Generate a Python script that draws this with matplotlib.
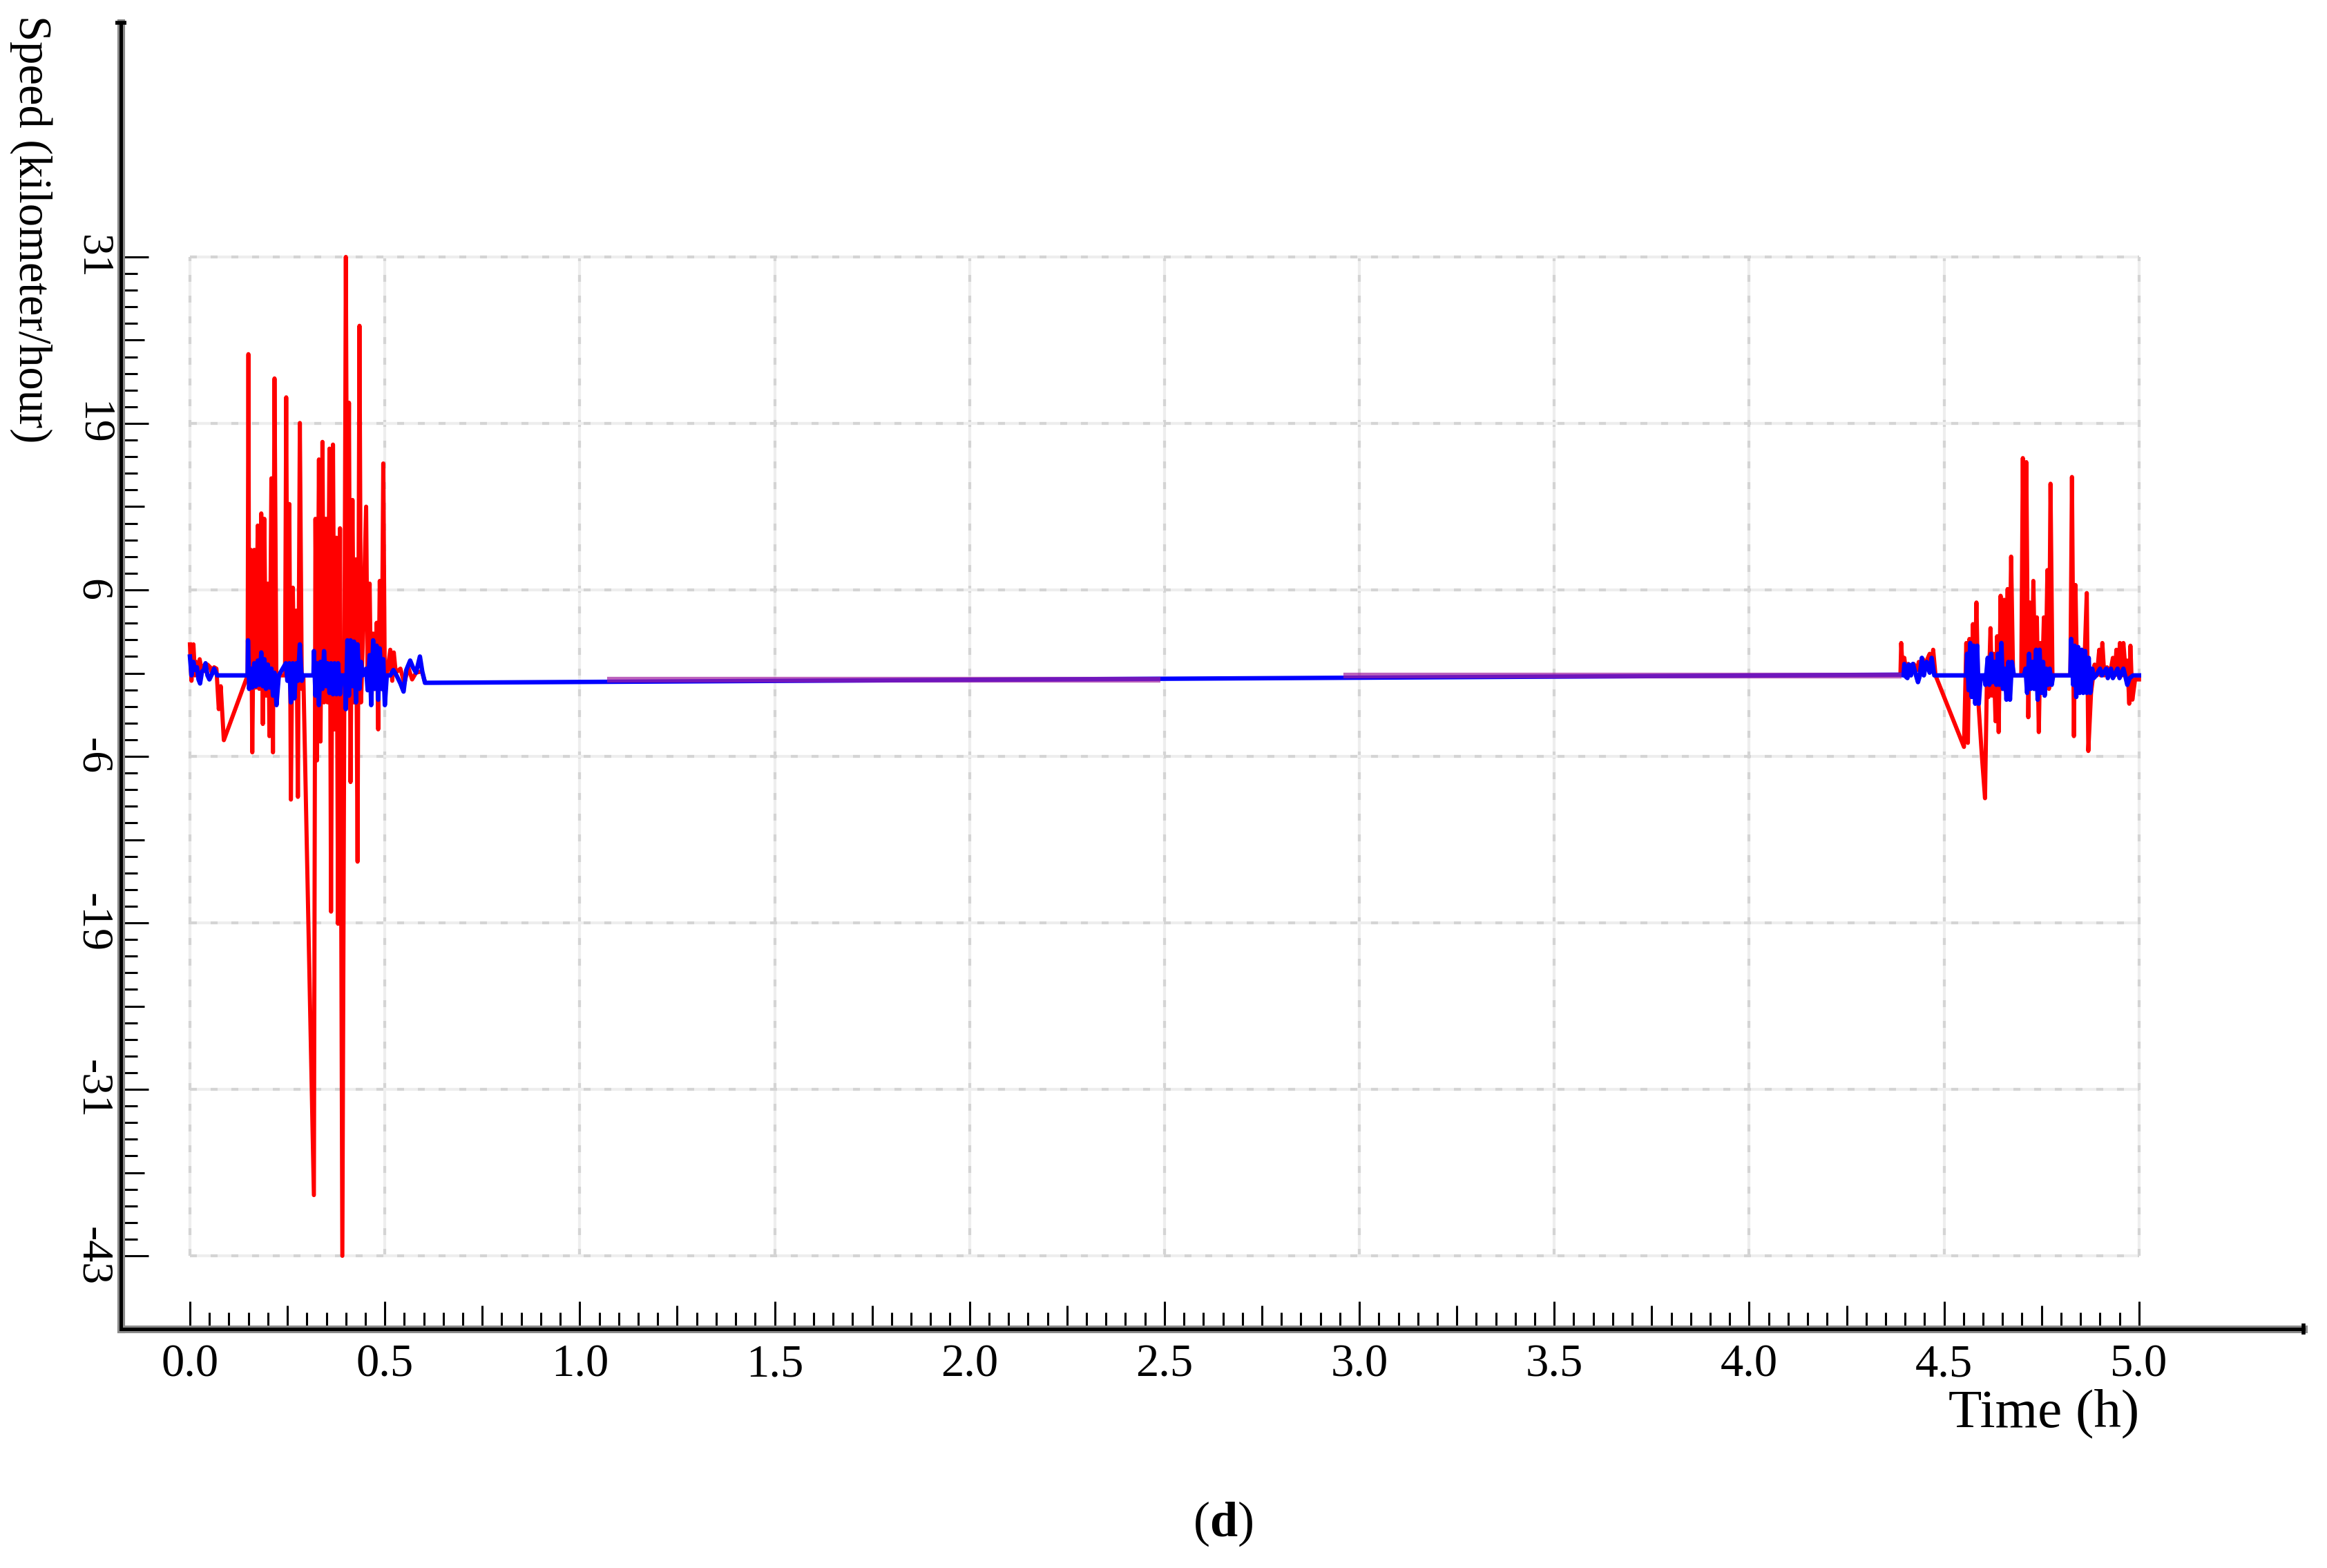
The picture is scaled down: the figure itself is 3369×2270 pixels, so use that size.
import numpy as np
import matplotlib.pyplot as plt

plt.rcParams['font.family'] = ['Liberation Serif', 'DejaVu Serif']
plt.rcParams['mathtext.fontset'] = 'custom'
plt.rcParams['mathtext.rm'] = 'Liberation Serif'
plt.rcParams['mathtext.bf'] = 'Liberation Serif:bold'

nan = np.nan

# speed: time in hours, speed in km/h
red_time = [0.000, 0.004, 0.009, 0.013, 0.016, 0.021, 0.025, 0.030, 0.035, 0.040, 0.045, 0.052, 0.057, 0.062,
            0.068, 0.074, 0.079, 0.087, 0.148,
            0.150, 0.152, 0.156, 0.160, 0.165, 0.169, 0.174, 0.178, 0.183, 0.187, 0.191, 0.195, 0.200, 0.204,
            0.209, 0.213, 0.217, 0.222, 0.228, 0.244,
            0.247, 0.250, 0.255, 0.259, 0.264, 0.268, 0.273, 0.277, 0.282, 0.287, 0.291, 0.318,
            0.322, 0.326, 0.331, 0.335, 0.340, 0.344, 0.349, 0.353, 0.358, 0.362, 0.367, 0.371, 0.376, 0.380,
            0.385, 0.391,
            0.400, 0.404, 0.408, 0.412, 0.417, 0.421, 0.426, 0.430, 0.435, 0.439, 0.443,
            0.452, 0.456, 0.461, 0.465, 0.470, 0.474, 0.479, 0.483, 0.487, 0.492, 0.496, 0.500, 0.505,
            0.514, 0.519, 0.523, 0.528, 0.540, 0.550, 0.560, 0.570, 0.580, 0.595, 0.603,
            nan,
            4.388, 4.390, 4.394, 4.398, 4.402, 4.408, 4.415, 4.422, 4.431, 4.435, 4.441, 4.446, 4.452, 4.457,
            4.463, 4.468, 4.472, 4.478, 4.551,
            4.557, 4.561, 4.565, 4.570, 4.574, 4.578, 4.583, 4.588, 4.597, 4.605, 4.610, 4.614, 4.619, 4.623,
            4.627, 4.632, 4.636, 4.640, 4.645, 4.649, 4.654, 4.658, 4.663, 4.667, 4.672, 4.677, 4.698,
            4.702, 4.706, 4.711, 4.716, 4.720, 4.725, 4.729, 4.734, 4.738, 4.743, 4.747, 4.751, 4.756, 4.760,
            4.765, 4.769, 4.773, 4.778, 4.824,
            4.828, 4.833, 4.837, 4.841, 4.850, 4.859, 4.866, 4.870, 4.877, 4.886, 4.892, 4.898, 4.902, 4.906,
            4.911, 4.918, 4.925, 4.933, 4.938, 4.942, 4.947, 4.951, 4.956, 4.960, 4.965, 4.970, 4.975, 4.978,
            4.983, 4.990, 5.000]
red_speed = [2.3, -0.4, 2.3, 0.0, 1.0, 0.2, 1.2, 0.4, 0.7, 0.3, 0.8, 0.6, 0.1, 0.6,
             0.5, -2.5, -0.8, -4.8, 0.0,
             23.8, -1.0, 9.3, -5.7, 9.3, -0.9, 11.1, -1.0, 12.0, -3.6, 11.6, -1.5, 6.8, -4.5,
             14.6, -5.7, 22.0, -1.5, 0.0, 0.0,
             20.6, 0.5, 12.7, -9.2, 6.5, -1.5, 4.8, -9.0, 18.7, -1.0, 0.0, -38.5,
             11.6, -6.3, 16.0, -4.9, 17.3, -2.0, 11.6, -2.0, 16.8, -17.5, 17.1, -4.0, 10.2, -18.4,
             10.9, -43.0,
             31.0, 2.0, 20.2, -7.9, 13.0, -2.0, 8.6, -13.8, 25.9, -2.0, 2.0,
             12.5, -1.0, 6.8, -2.0, 3.1, -1.0, 3.9, -4.0, 7.0, -1.0, 15.7, -1.0, 0.0,
             1.9, -0.4, 1.7, 0.2, 0.5, -0.6, 0.6, -0.3, 0.2, 0.3, -0.5,
             nan,
             0.05, 2.4, 0.2, 1.3, 0.3, 0.85, 0.3, 0.85, 0.4, 1.0, 0.5, 1.2, 0.5, 1.2,
             1.6, 0.6, 1.9, 0.0, -5.3,
             2.4, -5.0, 2.7, -1.0, 3.8, -1.5, 5.4, -2.0, -6.0, -9.1, 0.0, -1.6, 3.5, -1.5,
             1.6, -3.4, 2.9, -4.2, 5.9, -1.0, 5.6, -1.0, 6.4, -1.0, 8.8, 0.0, 0.0,
             16.1, 0.5, 15.8, -3.1, 5.4, 0.0, 7.0, -1.0, 4.3, -4.2, 2.4, -1.0, 4.3, -1.0,
             7.8, -1.0, 14.2, 0.0, 0.0,
             14.7, -4.5, 6.7, 0.0, 0.5, 0.0, 6.1, -5.6, -1.3, 0.8, 0.0, 1.9, 0.0, 2.4,
             0.0, 0.6, 0.0, 1.3, 0.0, 1.9, 0.0, 2.4, 0.0, 2.4, 0.5, 1.1, -2.1, 2.2,
             -1.8, -0.3, -0.3]

blue_time = [0.000, 0.004, 0.009, 0.013, 0.018, 0.022, 0.026, 0.031, 0.036, 0.040, 0.045, 0.050, 0.055, 0.062,
             0.070, 0.148,
             0.149, 0.152, 0.156, 0.160, 0.165, 0.169, 0.174, 0.178, 0.183, 0.187, 0.191, 0.195, 0.200, 0.204,
             0.209, 0.213, 0.217, 0.222, 0.228,
             0.246, 0.250, 0.255, 0.259, 0.264, 0.268, 0.273, 0.277, 0.282, 0.287, 0.291, 0.317,
             0.318, 0.322, 0.326, 0.331, 0.335, 0.340, 0.344, 0.349, 0.353, 0.358, 0.362, 0.367, 0.371, 0.376,
             0.380, 0.385, 0.388,
             0.397, 0.400, 0.404, 0.408, 0.412, 0.417, 0.421, 0.426, 0.430, 0.435, 0.439, 0.443,
             0.452, 0.456, 0.461, 0.465, 0.470, 0.474, 0.479, 0.483, 0.487, 0.492, 0.496, 0.500, 0.505,
             0.514, 0.522, 0.530, 0.540, 0.548, 0.555, 0.565, 0.572, 0.580, 0.590, 0.596, 0.603,
             4.388, 4.396, 4.398, 4.402, 4.406, 4.410, 4.415, 4.420, 4.428, 4.433, 4.437, 4.443, 4.448, 4.455,
             4.463, 4.468, 4.475, 4.557,
             4.559, 4.563, 4.567, 4.571, 4.576, 4.580, 4.585, 4.589, 4.594, 4.603,
             4.606, 4.612, 4.616, 4.621, 4.625, 4.629, 4.634, 4.638, 4.642, 4.647, 4.651, 4.656, 4.660, 4.665,
             4.669, 4.674, 4.679, 4.705,
             4.709, 4.713, 4.718, 4.722, 4.727, 4.731, 4.736, 4.740, 4.745, 4.749, 4.754, 4.758, 4.762, 4.767,
             4.771, 4.776, 4.780, 4.824,
             4.826, 4.831, 4.835, 4.839, 4.844, 4.848, 4.853, 4.857, 4.862, 4.866, 4.871, 4.875, 4.880, 4.884,
             4.890, 4.900, 4.905, 4.916, 4.920, 4.928, 4.933, 4.945, 4.950, 4.960, 4.966, 4.970, 4.976, 4.985,
             5.000]
blue_speed = [1.4, 0.0, 1.0, 0.4, 0.6, -0.3, -0.6, 0.3, 0.4, 0.9, 0.0, -0.3, 0.0, 0.5,
              0.0, 0.0,
              2.6, -1.0, 0.5, -0.9, 0.9, -0.8, 1.1, -0.7, 1.7, -0.8, 1.2, -1.0, 0.8, -0.9,
              0.5, -1.5, 0.2, -2.2, 0.0,
              0.9, -0.4, 0.9, -2.0, 0.9, -1.7, 0.9, -0.4, 2.3, -0.4, 0.0, 0.0,
              1.8, -1.5, 0.9, -2.2, 1.0, -1.0, 1.8, -0.8, 0.9, -1.3, 0.9, -1.4, 0.9, -1.4,
              0.9, -1.4, 0.0,
              0.0, -2.5, 2.6, -1.5, 2.6, -0.8, 2.5, -2.0, 2.3, -1.0, 1.0, 0.0,
              0.5, -1.1, 1.5, -2.2, 2.6, -1.0, 2.2, -1.8, 2.0, -1.0, 1.2, -2.2, 0.0,
              0.0, 0.4, 0.0, -0.6, -1.2, 0.4, 1.1, 0.6, 0.2, 1.4, 0.3, -0.55,
              0.05, 0.0, 0.85, -0.1, -0.2, 0.8, 0.0, 0.85, 0.0, -0.5, -0.1, 1.3, 0.0, 1.0,
              0.2, 1.3, 0.0, 0.0,
              1.6, -1.1, 2.4, -1.6, 2.2, -2.1, 2.2, -2.1, 0.0, 0.0,
              -0.7, 1.3, -0.7, 1.6, -0.5, 1.0, -0.7, 1.6, -0.7, 2.4, -1.0, 0.5, -1.8, 1.0,
              -1.8, 1.0, 0.0, 0.0,
              0.5, -1.3, 1.6, -1.0, 1.0, -1.0, 1.9, -1.8, 1.9, -1.3, 1.0, -1.5, 0.5, -0.7,
              0.5, -0.7, 0.0, 0.0,
              2.7, -0.7, 2.2, -1.6, 2.1, -1.3, 1.9, -1.3, 1.8, -1.3, 1.3, -1.3, 0.5, -0.2,
              0.0, 0.5, 0.0, 0.5, -0.2, 0.5, -0.2, 0.5, -0.2, 0.5, -0.2, -0.7, -0.2, 0.0,
              0.0]

purple_time = [1.07, 2.49, nan, 2.96, 4.39]
purple_speed = [-0.3, -0.3, nan, 0.0, 0.0]

x_labels = ['0.0', '0.5', '1.0', '1.5', '2.0', '2.5', '3.0', '3.5', '4.0', '4.5', '5.0']
y_labels = ['-43', '-31', '-19', '-6', '6', '19', '31']
y_low, y_high = -43, 31

x_main = np.array([float(s) for s in x_labels])
x_ticks = np.linspace(x_main[0], x_main[-1], 2 * len(x_main) - 1)
x_minor = np.linspace(x_main[0], x_main[-1], 10 * (len(x_main) - 1) + 1)
y_main = np.linspace(y_low, y_high, len(y_labels))
y_ticks = np.linspace(y_low, y_high, 2 * len(y_labels) - 1)
y_minor = np.linspace(y_low, y_high, 10 * (len(y_labels) - 1) + 1)

fig = plt.figure(figsize=(33.69, 22.70), dpi=100)
ax = fig.add_axes([0.0518, 0.1526, 0.9381, 0.8329])
x0, x1 = -0.178, 5.422
y0, y1 = -48.4, 48.35
ax.set_xlim(x0, x1)
ax.set_ylim(y0, y1)

# grid inside the data box only
ax.vlines(x_main, y_low, y_high, colors='#eeeeee', lw=3, zorder=1)
ax.vlines(x_main, y_low, y_high, colors='#d4d4d4', lw=3, linestyles=(0, (2.4, 4.8)), zorder=1)
ax.hlines(y_main, x_main[0], x_main[-1], colors='#eeeeee', lw=3, zorder=1)
ax.hlines(y_main, x_main[0], x_main[-1], colors='#d4d4d4', lw=3, linestyles=(0, (2.4, 4.8)), zorder=1)

ax.plot(red_time, red_speed, color='#ff0000', lw=4.3, zorder=2)
ax.plot(blue_time, blue_speed, color='#0000ff', lw=4.6, zorder=3)
ax.plot(purple_time, purple_speed, color='#a020a0', lw=6, alpha=0.7, zorder=4, solid_capstyle='butt')

# axis lines: grey band with black core
for s in ['top', 'right']:
    ax.spines[s].set_visible(False)
for s in ['left', 'bottom']:
    ax.spines[s].set_color('#8a8a8a')
    ax.spines[s].set_linewidth(8)
ax.axvline(x0, color='k', lw=3.6, clip_on=False, zorder=5)
ax.axhline(y0, color='k', lw=3.6, clip_on=False, zorder=5)
ax.plot([x1], [y0], marker='|', ms=12, mew=4, color='k', clip_on=False, zorder=6)
ax.plot([x0], [y1], marker='_', ms=12, mew=4, color='k', clip_on=False, zorder=6)

ax.set_xticks(x_ticks)
ax.set_xticklabels([x_labels[i // 2] if i % 2 == 0 else '' for i in range(len(x_ticks))])
ax.set_xticks(x_minor, minor=True)
ax.set_yticks(y_ticks)
ax.set_yticklabels([y_labels[i // 2] if i % 2 == 0 else '' for i in range(len(y_ticks))])
ax.set_yticks(y_minor, minor=True)

ax.tick_params(which='both', direction='in', color='k', width=2.2)
ax.tick_params(which='major', length=29, pad=16, labelsize=48)
ax.tick_params(which='minor', length=17)
ax.tick_params(axis='y', labelrotation=-90, pad=9, labelsize=46)
for i, t in enumerate(ax.xaxis.get_major_ticks()):
    if i % 2:
        t.tick1line.set_markersize(24.5)
for i, t in enumerate(ax.yaxis.get_major_ticks()):
    if i % 2:
        t.tick1line.set_markersize(24.5)
for lbl in ax.get_yticklabels():
    lbl.set_va('center')

fig.text(14 / 3369, 1 - 22 / 2270, 'Speed (kilometer/hour)', rotation=-90, ha='left', va='top', fontsize=48)
fig.text(3097 / 3369, 1 - 2065 / 2270, 'Time (h)', ha='right', va='baseline', fontsize=57)
fig.text(0.5254, 1 - 2224 / 2270, r'($\mathbf{d}$)', ha='center', va='baseline', fontsize=52)

fig.savefig('out.png', dpi=100)
